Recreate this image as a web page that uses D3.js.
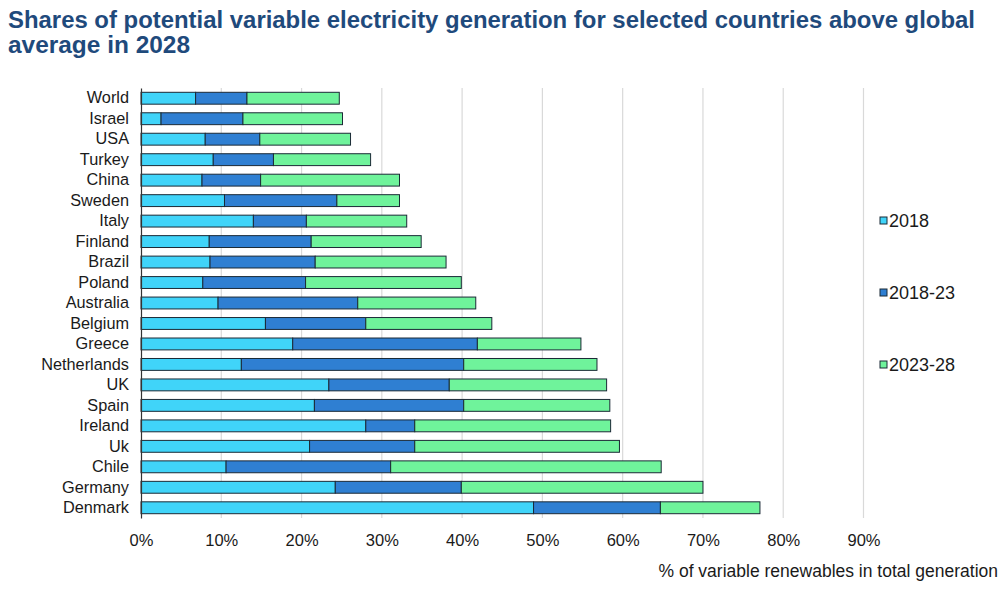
<!DOCTYPE html>
<html>
<head>
<meta charset="utf-8">
<script src="https://cdn.jsdelivr.net/npm/d3@7"></script>
<style>
    body { margin: 0; background: #fff; }
    text { font-family: "Liberation Sans", Arial, sans-serif; fill: #1a1a1a; }
</style>
</head>
<body>
<div id="chart"></div>
<script>
// countries, top to bottom
var countries = ['World', 'Israel', 'USA', 'Turkey', 'China', 'Sweden', 'Italy', 'Finland',
    'Brazil', 'Poland', 'Australia', 'Belgium', 'Greece', 'Netherlands', 'UK', 'Spain',
    'Ireland', 'Uk', 'Chile', 'Germany', 'Denmark'];
// share in 2018 (%)
var share2018 = [6.8, 2.5, 8.0, 9.0, 7.6, 10.4, 14.0, 8.5, 8.6, 7.7, 9.6, 15.5, 18.9, 12.5,
    23.4, 21.6, 28.0, 21.0, 10.6, 24.2, 48.9];
// growth 2018-23 (percentage points)
var growth1823 = [6.4, 10.2, 6.8, 7.5, 7.3, 14.0, 6.6, 12.7, 13.1, 12.8, 17.4, 12.5, 23.0, 27.7,
    15.0, 18.6, 6.1, 13.1, 20.5, 15.7, 15.8];
// growth 2023-28 (percentage points)
var growth2328 = [11.5, 12.4, 11.3, 12.1, 17.3, 7.8, 12.5, 13.7, 16.3, 19.4, 14.7, 15.7, 12.9, 16.6,
    19.6, 18.2, 24.4, 25.5, 33.7, 30.1, 12.4];

var seriesNames = ['2018', '2018-23', '2023-28'];
var seriesColor = ['#40d4f9', '#2f7fd2', '#6ff39b'];
var xTicks = [0, 10, 20, 30, 40, 50, 60, 70, 80, 90];

var width = 1000,
    height = 600;

var svg = d3.select('#chart').append('svg')
    .attr('width', width)
    .attr('height', height);

// 标题
var titleLines = ['Shares of potential variable electricity generation for selected countries above global',
    'average in 2028'];
svg.append('text')
    .attr('x', 8)
    .attr('y', 28)
    .attr('textLength', 967)
    .attr('lengthAdjust', 'spacingAndGlyphs')
    .style('font-size', '23px')
    .style('font-weight', 'bold')
    .style('fill', '#1f4a7c')
    .text(titleLines[0]);
svg.append('text')
    .attr('x', 8)
    .attr('y', 53)
    .attr('textLength', 182)
    .attr('lengthAdjust', 'spacingAndGlyphs')
    .style('font-size', '23px')
    .style('font-weight', 'bold')
    .style('fill', '#1f4a7c')
    .text(titleLines[1]);

// 数据整理成堆叠格式
var rows = countries.map(function(c, i) {
    return { name: c, '2018': share2018[i], '2018-23': growth1823[i], '2023-28': growth2328[i] };
});
var stacked = d3.stack().keys(seriesNames)(rows);

var x = d3.scaleLinear()
    .domain([0, 90])
    .range([141, 863.5]);
var y = d3.scaleBand()
    .domain(countries)
    .range([88, 518])
    .paddingInner(0.42)
    .paddingOuter(0.21);

// 网格线
svg.append('g')
    .selectAll('line')
    .data(xTicks.slice(1))
    .enter()
    .append('line')
    .attr('x1', function(d) { return x(d); })
    .attr('x2', function(d) { return x(d); })
    .attr('y1', 88)
    .attr('y2', 518)
    .style('stroke', '#d9d9d9')
    .style('stroke-width', 1.2);

// x轴刻度文字
var xAxis = d3.axisBottom(x)
    .tickValues(xTicks)
    .tickSize(0)
    .tickPadding(0)
    .tickFormat(function(d) { return d + '%'; });
var gx = svg.append('g')
    .attr('transform', 'translate(0,534)')
    .call(xAxis);
gx.select('.domain').remove();
gx.selectAll('text')
    .attr('dy', '0.75em')
    .style('font-size', '16.5px')
    .style('font-family', '"Liberation Sans", Arial, sans-serif')
    .style('fill', '#1a1a1a');

svg.append('text')
    .attr('x', 998)
    .attr('y', 577)
    .attr('text-anchor', 'end')
    .style('font-size', '17.5px')
    .text('% of variable renewables in total generation');

// 堆叠条形
var layers = svg.append('g')
    .selectAll('g')
    .data(stacked)
    .enter()
    .append('g')
    .attr('fill', function(d, i) { return seriesColor[i]; });

layers.selectAll('rect')
    .data(function(d) { return d; })
    .enter()
    .append('rect')
    .attr('x', function(d) { return x(d[0]); })
    .attr('y', function(d) { return y(d.data.name); })
    .attr('width', function(d) { return x(d[1]) - x(d[0]); })
    .attr('height', y.bandwidth())
    .style('stroke', '#1b2a36')
    .style('stroke-width', 1);

// y轴
var yAxis = d3.axisLeft(y)
    .tickSize(0)
    .tickPadding(12);
var gy = svg.append('g')
    .attr('transform', 'translate(141,0)')
    .call(yAxis);
gy.select('.domain')
    .style('stroke', '#333')
    .style('stroke-width', 1.2);
gy.selectAll('text')
    .style('font-size', '16.3px')
    .style('font-family', '"Liberation Sans", Arial, sans-serif')
    .style('fill', '#1a1a1a');

// 图例
var legend = svg.append('g')
    .selectAll('g')
    .data(seriesNames)
    .enter()
    .append('g')
    .attr('transform', function(d, i) { return 'translate(880,' + (220 + i * 72) + ')'; });
legend.append('rect')
    .attr('x', 0)
    .attr('y', -3)
    .attr('width', 7)
    .attr('height', 7)
    .attr('fill', function(d, i) { return seriesColor[i]; })
    .style('stroke', '#1b2a36')
    .style('stroke-width', 1);
legend.append('text')
    .attr('x', 9)
    .attr('y', 7)
    .style('font-size', '18px')
    .text(function(d) { return d; });
</script>
</body>
</html>
